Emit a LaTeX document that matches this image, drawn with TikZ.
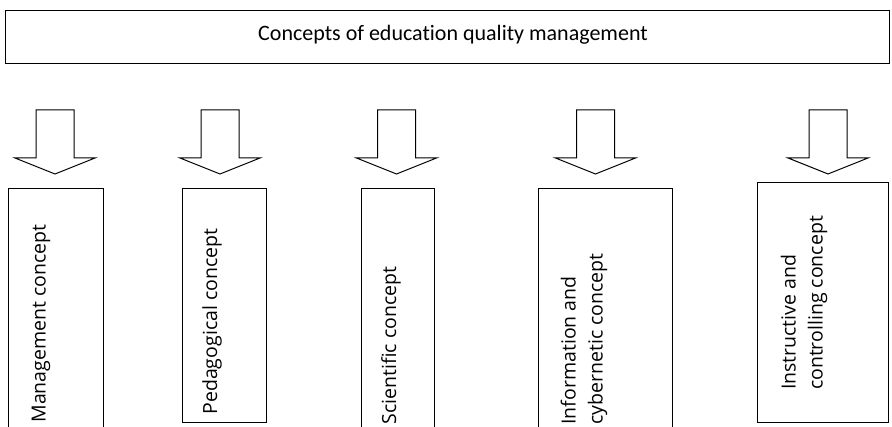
\documentclass[tikz,border=0pt]{standalone}
\usepackage{fontspec}
\setmainfont{Open Sans}
\newfontfamily\headfont[Ligatures=NoCommon]{Carlito}
\begin{document}
\begin{tikzpicture}[x=1pt,y=1pt,line width=1pt,
	box node/.style = {draw,rectangle,inner sep=0pt,anchor=south west},
	side text/.style = {rotate=90,inner sep=0pt,align=left,font=\fontsize{19.5}{27}\selectfont}]
	
	\clip (0,0) rectangle (892,427);
	
	% top box
	\node[box node,minimum width=884,minimum height=53] at (5,363) (0) {};
	\node[inner sep=0pt,anchor=base,font=\headfont\fontsize{22}{26}\selectfont] at (453,386) (t) {Concepts of education quality management};
	
	% block arrows
	\foreach \x in {55,220,396.5,595.5,828}
	\draw[fill=white] (\x-19,317) -- (\x+19,317) -- (\x+19,269) -- (\x+40,269)
		-- (\x,253) -- (\x-40,269) -- (\x-19,269) -- cycle;
	
	% concept boxes
	\node[box node,minimum width=95,minimum height=260] at (8,-22) (1) {};
	\node[box node,minimum width=84,minimum height=234] at (182,4) (2) {};
	\node[box node,minimum width=73,minimum height=260] at (361,-22) (3) {};
	\node[box node,minimum width=134,minimum height=260] at (538,-22) (4) {};
	\node[box node,minimum width=131,minimum height=240] at (757,4) (5) {};
	
	\node[side text,anchor=west] at (41,4) (1t) {Management concept};
	\node[side text,anchor=west] at (212,12) (2t) {Pedagogical concept};
	\node[side text,anchor=west] at (391,2) (3t) {Scientific concept};
	\node[side text,anchor=west] at (584,2) (4t) {Information and\\cybernetic concept};
	\node[side text] at (804,124) (5t) {Instructive and\\controlling concept};
\end{tikzpicture}
\end{document}
